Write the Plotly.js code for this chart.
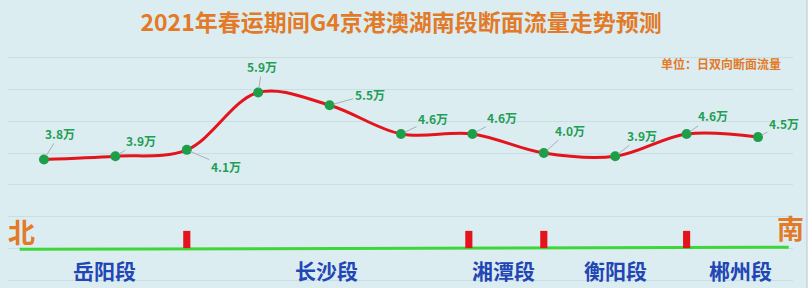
<!DOCTYPE html>
<html>
<head>
<meta charset="utf-8">
<script src="https://cdn.plot.ly/plotly-3.0.1.min.js"></script>
<style>html,body{margin:0;padding:0;background:#fff;}#chart{width:812px;height:288px;}</style>
</head>
<body>
<div id="chart"></div>
<script>
// ---- data ----
const stations = [0, 1, 2, 3, 4, 5, 6, 7, 8, 9, 10];
const flowWan = [3.8, 3.9, 4.1, 5.9, 5.5, 4.6, 4.6, 4.0, 3.9, 4.6, 4.5];
const flowLabels = ['3.8万', '3.9万', '4.1万', '5.9万', '5.5万', '4.6万', '4.6万', '4.0万', '3.9万', '4.6万', '4.5万'];
const segmentNames = ['岳阳段', '长沙段', '湘潭段', '衡阳段', '郴州段'];
const segmentCenters = [0.85, 3.96, 6.43, 8.01, 9.76];
const segmentBoundaries = [2, 5.95, 7, 9];
const titleText = '2021年春运期间G4京港澳湖南段断面流量走势预测';
const unitText = '单位：日双向断面流量';

// ---- styling (label offsets in px) ----
const labelOffsets = [[16,-26],[26,-16],[39,17],[4,-26],[40,-11],[32,-15],[30,-16],[26,-23],[27,-21],[26,-18],[26,-14]];
const FONT = '"Noto Sans CJK SC", "Noto Sans", sans-serif';
const ORANGE = '#e27a28';
const BG = '#dcedf1';

const annotations = [];
flowLabels.forEach((t, i) => {
  annotations.push({
    x: stations[i], y: flowWan[i], xref: 'x', yref: 'y',
    text: '<b>' + t + '</b>', showarrow: true, arrowhead: 0, arrowwidth: 1,
    arrowcolor: '#a8b0b3', standoff: 4,
    ax: labelOffsets[i][0], ay: labelOffsets[i][1],
    font: {family: FONT, size: 12, color: '#1f9e55'}
  });
});
segmentNames.forEach((n, i) => {
  annotations.push({
    x: segmentCenters[i], y: 0.34, xref: 'x', yref: 'y', showarrow: false,
    text: '<b>' + n + '</b>',
    font: {family: FONT, size: 21, color: '#2346b5'}
  });
});
annotations.push({x: -0.31, y: 1.55, xref: 'x', yref: 'y', showarrow: false,
  text: '<b>北</b>', font: {family: FONT, size: 27, color: ORANGE}});
annotations.push({x: 10.45, y: 1.68, xref: 'x', yref: 'y', showarrow: false,
  text: '<b>南</b>', font: {family: FONT, size: 27, color: ORANGE}});
annotations.push({x: 10.35, y: 6.8, xref: 'x', yref: 'y', xanchor: 'right', yanchor: 'middle',
  showarrow: false, text: '<b>' + unitText + '</b>',
  font: {family: FONT, size: 12, color: ORANGE}});

const shapes = [];
shapes.push({type: 'line', xref: 'x', yref: 'y', x0: -0.34, x1: 10.43, y0: 0.98, y1: 1.05,
  line: {color: '#3fd63a', width: 3}, layer: 'above'});
segmentBoundaries.forEach(b => {
  shapes.push({type: 'rect', xref: 'x', yref: 'y', x0: b - 0.05, x1: b + 0.05, y0: 1.02, y1: 1.56,
    fillcolor: '#e4141c', line: {width: 0}, layer: 'above'});
});
// right border of the picture
shapes.push({type: 'rect', xref: 'paper', yref: 'paper', x0: (807 - 8) / 785, x1: 1.05, y0: -0.05, y1: 1.3,
  fillcolor: '#ffffff', line: {color: '#b8c4c8', width: 1}, layer: 'below'});

const trace = {
  x: stations, y: flowWan, type: 'scatter', mode: 'lines+markers',
  line: {shape: 'spline', smoothing: 1, color: '#e3141c', width: 3},
  marker: {color: '#1f9e4a', size: 10},
  hoverinfo: 'skip', cliponaxis: false
};

const layout = {
  width: 812, height: 288,
  margin: {l: 8, r: 19, t: 51, b: 1, pad: 0},
  paper_bgcolor: BG, plot_bgcolor: BG,
  showlegend: false,
  title: {text: '<b>' + titleText + '</b>', x: 0.494, xref: 'container', xanchor: 'center',
    y: 1 - 23 / 288, yref: 'container', yanchor: 'middle',
    font: {family: FONT, size: 23, color: ORANGE}},
  xaxis: {range: [-0.504, 10.49], showgrid: false, zeroline: false, showticklabels: false, ticks: '', fixedrange: true},
  yaxis: {range: [-0.2, 7.2], dtick: 1, tick0: 0, showgrid: true, gridcolor: '#cadde3', gridwidth: 1,
    zeroline: false, showticklabels: false, ticks: '', fixedrange: true},
  annotations: annotations, shapes: shapes
};

Plotly.newPlot('chart', [trace], layout, {displayModeBar: false, staticPlot: true});
</script>
</body>
</html>
